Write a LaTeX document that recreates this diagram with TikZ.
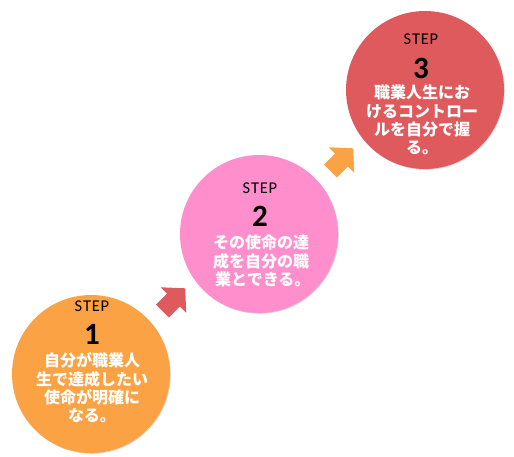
\documentclass[tikz,border=0pt]{standalone}
\usepackage{fontspec}
\setmainfont{Carlito}
\newfontfamily\stepfont[LetterSpace=5]{Carlito}
\newfontfamily\jp{Noto Sans CJK JP}
\usetikzlibrary{shadows}
\definecolor{cOrange}{HTML}{FBA344}
\definecolor{cPink}{HTML}{FF8FCC}
\definecolor{cRed}{HTML}{DE5A5D}
\tikzset{
  stepcircle/.style={circle, minimum size=158pt, inner sep=0pt,
    drop shadow={shadow xshift=0.8pt, shadow yshift=-0.8pt, opacity=0.25, fill=black!60}},
  steplabel/.style={font=\stepfont\fontsize{16.5}{18}\selectfont, text=black, inner sep=0pt},
  stepnum/.style={font=\fontsize{31}{34}\selectfont\bfseries, text=black, inner sep=0pt},
  steptext/.style={font=\jp\bfseries\fontsize{16}{18.3}\selectfont, text=white, align=center, inner sep=0pt},
}
\newcommand{\stepArrow}[2]{%
  \fill[#2, shift={#1}] (11.7,-11.7) -- (12.7,12.7) -- (6.4,6.4) -- (-4.6,17.4)
    -- (-17.4,4.6) -- (-6.4,-6.4) -- (-12.7,-12.7) -- cycle;}
\begin{document}
\begin{tikzpicture}[x=1pt,y=-1pt]
\useasboundingbox[fill=white] (0,0) rectangle (514,456);
% circles
\node[stepcircle, fill=cOrange] (c1) at (91,374) {};
\node[stepcircle, fill=cPink] (c2) at (259,234) {};
\node[stepcircle, fill=cRed] (c3) at (425,90) {};
% arrows
\stepArrow{(173.5,300)}{cRed}
\stepArrow{(341.5,160)}{cOrange}
% step 1
\node[steplabel] (s1) at (92,306) {STEP};
\node[stepnum] (n1) at (92,334) {1};
\node[steptext] (t1) at (92,388) {自分が職業人\\生で達成したい\\使命が明確に\\なる。};
% step 2
\node[steplabel] (s2) at (260,188) {STEP};
\node[stepnum] (n2) at (260,216) {2};
\node[steptext] (t2) at (261,261) {その使命の達\\成を自分の職\\\ 業とできる。};
% step 3
\node[steplabel] (s3) at (421,39) {STEP};
\node[stepnum] (n3) at (421,68) {3};
\node[steptext] (t3) at (422,120) {職業人生にお\\けるコントロー\\ルを自分で握\\る。};
\end{tikzpicture}
\end{document}
